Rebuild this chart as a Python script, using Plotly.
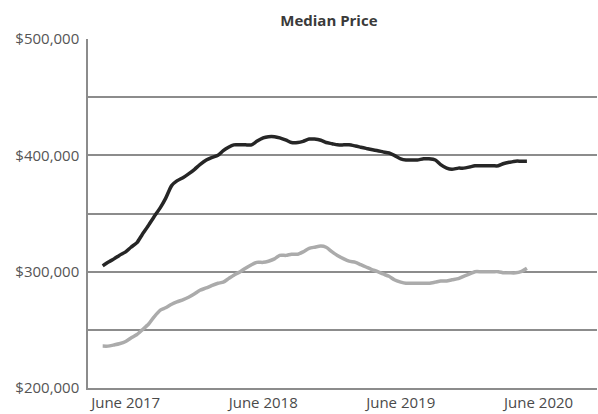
import numpy as np
import pandas as pd
import plotly.graph_objects as go

# Semi-monthly observations, April 2017 through May 2020
dates = pd.date_range("2017-04-01", periods=75, freq="SMS")

# Median price, in thousands of dollars
upper_k = [
    305, 308, 311, 314, 317, 321, 325, 332, 340, 347,
    355, 363, 374, 378, 381, 384, 388, 392, 396, 398,
    400, 404, 407, 409, 409, 409, 409, 412, 415, 416,
    416, 415, 413, 411, 411, 412, 414, 414, 413, 411,
    410, 409, 409, 409, 408, 407, 406, 405, 404, 403,
    402, 400, 397, 396, 396, 396, 397, 397, 396, 392,
    389, 388, 389, 389, 390, 391, 391, 391, 391, 391,
    393, 394, 395, 395, 395,
]
lower_k = [
    236, 236, 237, 238, 240, 243, 246, 250, 255, 261,
    267, 269, 272, 274, 276, 278, 281, 284, 286, 288,
    290, 291, 294, 297, 300, 303, 306, 308, 308, 309,
    311, 314, 314, 315, 315, 317, 320, 321, 322, 321,
    317, 314, 311, 309, 308, 306, 304, 302, 300, 298,
    296, 293, 291, 290, 290, 290, 290, 290, 291, 292,
    292, 293, 294, 296, 298, 300, 300, 300, 300, 300,
    299, 299, 299, 300, 303,
]
upper = np.array(upper_k) * 1000
lower = np.array(lower_k) * 1000

y_ticks = [200000, 250000, 300000, 350000, 400000, 450000, 500000]
y_labels = ["$200,000", "", "$300,000", "", "$400,000", "", "$500,000"]
x_ticks = ["2017-06-01", "2018-06-01", "2019-06-01", "2020-06-01"]
x_labels = ["June 2017", "June 2018", "June 2019", "June 2020"]

fig = go.Figure()
fig.add_trace(go.Scatter(
    x=dates, y=lower, mode="lines",
    line=dict(color="#ababab", width=3.5, shape="spline", smoothing=0.6),
    hoverinfo="skip",
))
fig.add_trace(go.Scatter(
    x=dates, y=upper, mode="lines",
    line=dict(color="#262626", width=3.5, shape="spline", smoothing=0.6),
    hoverinfo="skip",
))

font_family = "Open Sans, Noto Sans, sans-serif"
fig.update_layout(
    width=598, height=414,
    margin=dict(l=88, r=1, t=39, b=26),
    paper_bgcolor="white", plot_bgcolor="white",
    showlegend=False,
    font=dict(family=font_family, color="#555555", size=15),
    title=dict(
        text="<b>Median Price</b>", x=0.55, xanchor="center",
        y=1 - 21 / 414, yanchor="middle",
        font=dict(family=font_family, size=15, color="#3a3a3a"),
    ),
    xaxis=dict(
        range=["2017-02-21", "2020-11-03"],
        tickvals=x_ticks, ticktext=x_labels,
        showgrid=False, zeroline=False,
        showline=True, linecolor="#8c8c8c", linewidth=1.5,
        ticks="", tickfont=dict(size=15, color="#4a4a4a"),
    ),
    yaxis=dict(
        range=[200000, 500000],
        tickvals=y_ticks, ticktext=y_labels,
        showgrid=True, gridcolor="#8c8c8c", gridwidth=1.5,
        zeroline=False,
        showline=True, linecolor="#8c8c8c", linewidth=1.5,
        ticks="outside", ticklen=4, tickcolor="rgba(0,0,0,0)",
        tickfont=dict(size=15, color="#555555"),
    ),
)

fig.write_html("out.html")
